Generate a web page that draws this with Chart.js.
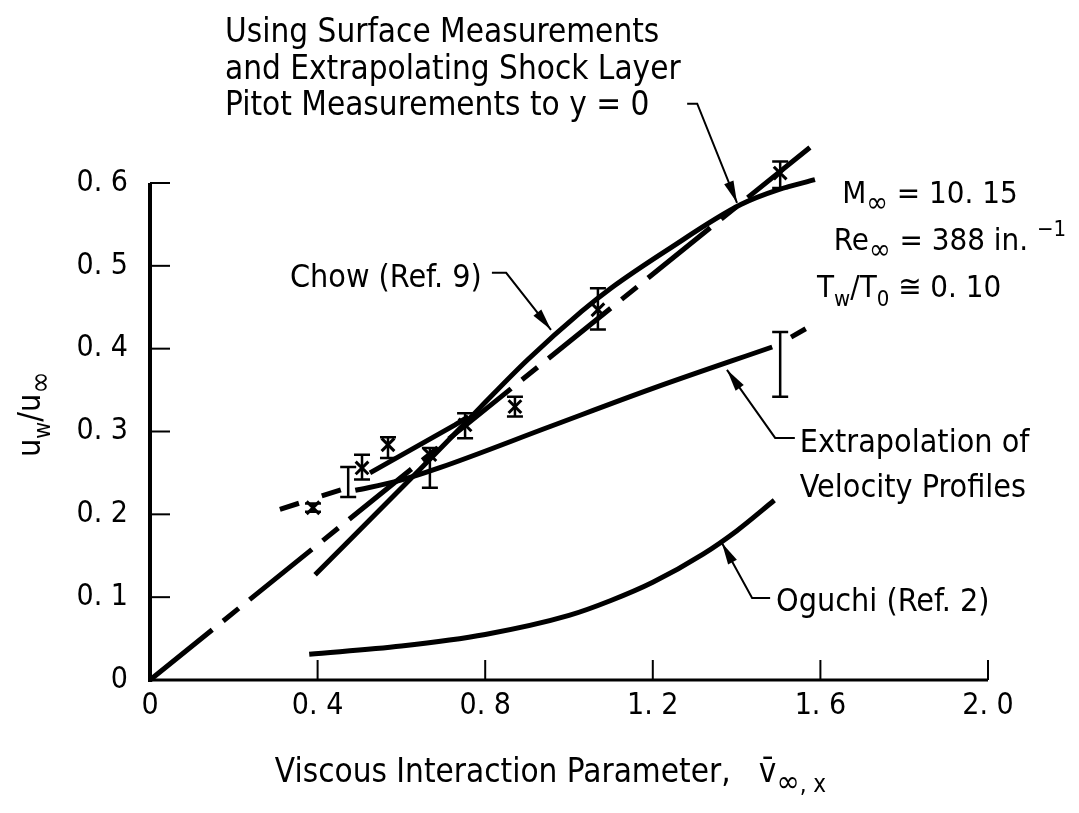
<!DOCTYPE html>
<html>
<head>
<meta charset="utf-8">
<script src="https://cdn.jsdelivr.net/npm/chart.js"></script>
<style>
html, body { margin: 0; background: #fff; }
</style>
</head>
<body>
<canvas id="graph" width="1079" height="813"></canvas>
<script>
// values
var surfX = [0, 1.58]
var surfY = [0, 0.645]
var chowX = [0.394, 0.644, 0.79, 0.9, 1.03, 1.1, 1.234, 1.41, 1.5, 1.587]
var chowY = [0.127, 0.254, 0.330, 0.386, 0.445, 0.473, 0.519, 0.574, 0.592, 0.604]
var pitotX = [0.525, 0.728, 0.76]
var pitotY = [0.250, 0.308, 0.318]
var extDashX = [0.31, 0.47]
var extDashY = [0.206, 0.232]
var extX = [0.49, 0.59, 0.69, 0.955, 1.2, 1.485]
var extY = [0.229, 0.240, 0.256, 0.306, 0.352, 0.402]
var extTailX = [1.53, 1.565]
var extTailY = [0.414, 0.424]
var oguchiX = [0.38, 0.6, 0.8, 1.0, 1.1, 1.2, 1.32, 1.4, 1.49]
var oguchiY = [0.031, 0.041, 0.055, 0.078, 0.096, 0.118, 0.152, 0.180, 0.217]

// measured points (x marks) and their error bars
var markX = [0.389, 0.506, 0.568, 0.668, 0.752, 0.871, 1.069, 1.504]
var markY = [0.208, 0.256, 0.284, 0.272, 0.308, 0.330, 0.447, 0.612]
var barX    = [0.389, 0.473, 0.506, 0.568, 0.668, 0.752, 0.871, 1.069, 1.504, 1.504]
var barLow  = [0.203, 0.221, 0.242, 0.268, 0.232, 0.292, 0.318, 0.423, 0.594, 0.342]
var barHigh = [0.213, 0.257, 0.272, 0.293, 0.280, 0.322, 0.342, 0.473, 0.626, 0.420]

var xTicks = [0, 0.4, 0.8, 1.2, 1.6, 2.0]
var xTickLabels = ['0', '0. 4', '0. 8', '1. 2', '1. 6', '2. 0']
var yTicks = [0, 0.1, 0.2, 0.3, 0.4, 0.5, 0.6]
var yTickLabels = ['0', '0. 1', '0. 2', '0. 3', '0. 4', '0. 5', '0. 6']

// callouts, anchored in data units (left edge, baseline)
var INF = {t: '\u221E', s: 'sub', k: 0.95}
var notes = [
  {x: 0.179, y: 0.7705, size: 33, runs: [{t: 'Using Surface Measurements'}]},
  {x: 0.179, y: 0.7258, size: 33, runs: [{t: 'and Extrapolating Shock Layer'}]},
  {x: 0.179, y: 0.6824, size: 33, runs: [{t: 'Pitot Measurements to y = 0'}]},
  {x: 0.334, y: 0.4746, size: 32, runs: [{t: 'Chow (Ref. 9)'}]},
  {x: 1.652, y: 0.576, size: 31, runs: [{t: 'M'}, INF, {t: ' = 10. 15'}]},
  {x: 1.632, y: 0.519, size: 31, runs: [{t: 'Re'}, INF, {t: ' = 388 in. '}, {t: '\u22121', s: 'sup'}]},
  {x: 1.592, y: 0.4626, size: 31, runs: [{t: 'T'}, {t: 'w', s: 'sub'}, {t: '/T'}, {t: '0', s: 'sub'}, {t: ' \u2245 0. 10'}]},
  {x: 1.551, y: 0.2754, size: 32, runs: [{t: 'Extrapolation of'}]},
  {x: 1.551, y: 0.221, size: 32, runs: [{t: 'Velocity Profiles'}]},
  {x: 1.494, y: 0.0833, size: 32, runs: [{t: 'Oguchi (Ref. 2)'}]},
  {x: 0.298, y: -0.1232, size: 33, runs: [{t: 'Viscous Interaction Parameter,   v\u0304'}, INF, {t: ', x', s: 'sub'}]}
]
var leaders = [
  [[1.282, 0.6957], [1.306, 0.6957], [1.401, 0.5761]],
  [[0.816, 0.4915], [0.850, 0.4915], [0.957, 0.4227]],
  [[1.539, 0.2923], [1.492, 0.2923], [1.377, 0.3744]],
  [[1.480, 0.0990], [1.437, 0.0990], [1.365, 0.1655]]
]

var FAMILY = "'DejaVu Sans Condensed', 'Liberation Sans Narrow', 'DejaVu Sans', sans-serif"
function fontOf(px) { return px + 'px ' + FAMILY }

function pts(xs, ys) { return xs.map(function (x, i) { return {x: x, y: ys[i]} }) }

function curve(xs, ys, dash, smooth) {
  return {
    data: pts(xs, ys),
    showLine: true,
    borderColor: '#000',
    borderWidth: 5,
    borderDash: dash || [],
    cubicInterpolationMode: smooth ? 'monotone' : 'default',
    tension: smooth ? 0.4 : 0,
    pointRadius: 0,
    clip: false
  }
}

function runSize(r, size) { return r.s ? Math.round(size * (r.k || 0.72)) : size }
function drawRuns(ctx, runs, x, y, size) {
  var cx = x
  runs.forEach(function (r) {
    ctx.font = fontOf(runSize(r, size))
    var dy = r.s === 'sub' ? size * 0.3 : (r.s === 'sup' ? -size * 0.45 : 0)
    ctx.fillText(r.t, cx, y + dy)
    cx += ctx.measureText(r.t).width
  })
  return cx - x
}
function runsWidth(ctx, runs, size) {
  var w = 0
  runs.forEach(function (r) {
    ctx.font = fontOf(runSize(r, size))
    w += ctx.measureText(r.t).width
  })
  return w
}

var decor = {
  id: 'decor',
  afterDatasetsDraw: function (chart) {
    var ctx = chart.ctx, xs = chart.scales.x, ys = chart.scales.y
    var X = function (v) { return xs.getPixelForValue(v) }
    var Y = function (v) { return ys.getPixelForValue(v) }
    ctx.save()
    ctx.strokeStyle = '#000'
    ctx.fillStyle = '#000'

    // axes
    ctx.lineWidth = 4
    ctx.beginPath(); ctx.moveTo(X(0), Y(0.6)); ctx.lineTo(X(0), Y(0) + 2); ctx.stroke()
    ctx.lineWidth = 3
    ctx.beginPath(); ctx.moveTo(X(0) - 2, Y(0)); ctx.lineTo(X(2.0), Y(0)); ctx.stroke()
    // inward ticks
    ctx.lineWidth = 2
    xTicks.forEach(function (v) {
      if (v === 0) return
      ctx.beginPath(); ctx.moveTo(X(v), Y(0)); ctx.lineTo(X(v), Y(0) - 20); ctx.stroke()
    })
    yTicks.forEach(function (v) {
      if (v === 0) return
      ctx.beginPath(); ctx.moveTo(X(0), Y(v)); ctx.lineTo(X(0) + 20, Y(v)); ctx.stroke()
    })

    // error bars
    ctx.lineWidth = 2.5
    barX.forEach(function (v, i) {
      var px = X(v), lo = Y(barLow[i]), hi = Y(barHigh[i])
      ctx.beginPath()
      ctx.moveTo(px, lo); ctx.lineTo(px, hi)
      ctx.moveTo(px - 8, lo); ctx.lineTo(px + 8, lo)
      ctx.moveTo(px - 8, hi); ctx.lineTo(px + 8, hi)
      ctx.stroke()
    })

    // leader lines with arrow heads
    ctx.lineWidth = 2
    leaders.forEach(function (L) {
      ctx.beginPath()
      L.forEach(function (p, i) {
        if (i === 0) ctx.moveTo(X(p[0]), Y(p[1])); else ctx.lineTo(X(p[0]), Y(p[1]))
      })
      ctx.stroke()
      var a = L[L.length - 2], b = L[L.length - 1]
      var bx = X(b[0]), by = Y(b[1])
      var ang = Math.atan2(by - Y(a[1]), bx - X(a[0]))
      ctx.beginPath()
      ctx.moveTo(bx, by)
      ctx.lineTo(bx - 22 * Math.cos(ang) + 5 * Math.sin(ang), by - 22 * Math.sin(ang) - 5 * Math.cos(ang))
      ctx.lineTo(bx - 22 * Math.cos(ang) - 5 * Math.sin(ang), by - 22 * Math.sin(ang) + 5 * Math.cos(ang))
      ctx.closePath()
      ctx.fill()
    })

    // callout text and x title
    ctx.textBaseline = 'alphabetic'
    ctx.textAlign = 'left'
    notes.forEach(function (n) { drawRuns(ctx, n.runs, X(n.x), Y(n.y), n.size) })

    // y title, rotated
    var yt = [{t: 'u'}, {t: 'w', s: 'sub'}, {t: '/u'}, INF]
    ctx.translate(X(-0.2864), Y(0.321))
    ctx.rotate(-Math.PI / 2)
    var w = runsWidth(ctx, yt, 32)
    drawRuns(ctx, yt, -w / 2, 10, 32)
    ctx.restore()
  }
}

Chart.defaults.font.family = FAMILY
Chart.defaults.color = '#000'

new Chart(document.getElementById('graph'), {
  type: 'scatter',
  data: {
    datasets: [
      curve(surfX, surfY, [80, 14, 20, 14]),
      curve(chowX, chowY, null, true),
      curve(pitotX, pitotY),
      curve(extDashX, extDashY, [20, 24]),
      curve(extX, extY, null, true),
      curve(extTailX, extTailY),
      curve(oguchiX, oguchiY, null, true),
      {
        data: pts(markX, markY),
        showLine: false,
        pointStyle: 'crossRot',
        pointRadius: 9,
        pointBorderWidth: 3,
        pointBorderColor: '#000',
        clip: false
      }
    ]
  },
  plugins: [decor],
  options: {
    responsive: false,
    animation: false,
    layout: {padding: {top: 183, right: 91, bottom: 0, left: 0}},
    plugins: {legend: {display: false}, tooltip: {enabled: false}},
    scales: {
      x: {
        type: 'linear', min: 0, max: 2.0,
        afterBuildTicks: function (s) { s.ticks = xTicks.map(function (v) { return {value: v} }) },
        afterFit: function (s) { s.height = 133 },
        grid: {display: false, drawTicks: false},
        border: {display: false},
        ticks: {
          font: {size: 30}, padding: 8, maxRotation: 0, autoSkip: false,
          callback: function (v) { return xTickLabels[xTicks.indexOf(v)] }
        }
      },
      y: {
        type: 'linear', min: 0, max: 0.6,
        afterBuildTicks: function (s) { s.ticks = yTicks.map(function (v) { return {value: v} }) },
        afterFit: function (s) { s.width = 150 },
        grid: {display: false, drawTicks: false},
        border: {display: false},
        ticks: {
          font: {size: 30}, padding: 22, autoSkip: false,
          callback: function (v) {
            var i = yTicks.findIndex(function (t) { return Math.abs(t - v) < 1e-9 })
            return yTickLabels[i]
          }
        }
      }
    }
  }
})
</script>
</body>
</html>
